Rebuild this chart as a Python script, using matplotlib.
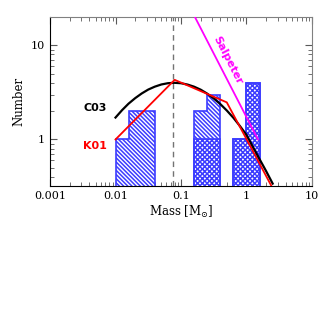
import matplotlib
matplotlib.use("Agg")
import matplotlib.pyplot as plt
from matplotlib.ticker import FuncFormatter, LogLocator

plt.rcParams["font.family"] = "DejaVu Serif"
plt.rcParams["mathtext.fontset"] = "dejavuserif"
plt.rcParams["hatch.linewidth"] = 1.1
plt.rcParams["hatch.color"] = "#1a1aff"

# histogram bins in log10(mass) and counts
bin_lo = [-2.0, -1.8, -0.8, -0.6, -0.2, 0.0]
bin_hi = [-1.8, -1.4, -0.6, -0.4, 0.0, 0.2]
n_all = [1, 2, 2, 3, 1, 4]
n_sub = [0, 0, 1, 1, 1, 4]

# Chabrier 2003 curve
c03_m = [0.01, 0.0126, 0.0158, 0.02, 0.0251, 0.0316, 0.0398, 0.0501, 0.0631,
         0.079, 0.1, 0.126, 0.158, 0.2, 0.251, 0.316, 0.398, 0.501, 0.631,
         0.794, 1.0, 1.26, 1.58, 2.0, 2.51]
c03_n = [1.71, 2.05, 2.40, 2.75, 3.08, 3.39, 3.64, 3.84, 3.96,
         4.00, 3.96, 3.83, 3.64, 3.38, 3.07, 2.73, 2.38, 2.03, 1.70,
         1.39, 1.12, 0.83, 0.62, 0.46, 0.34]

# Kroupa 2001 broken power law
k01_m = [0.01, 0.08, 0.5, 1.0, 3.0]
k01_n = [1.0, 4.3, 2.48, 1.01, 0.24]

# Salpeter slope
salp_m = [0.15, 1.5]
salp_n = [22.4, 1.0]

m_peak = 0.075

fig = plt.figure(figsize=(3.27, 3.27), dpi=100)
ax = fig.add_axes([0.153, 0.431, 0.801, 0.517])
ax.set_xscale("log")
ax.set_yscale("log")

base = 0.1
edge_col = "#3c3cff"


def groups(lo, hi, n):
    # split adjacent bins into contiguous runs
    runs = []
    for a, b, v in zip(lo, hi, n):
        if runs and abs(runs[-1][0][-1] - a) < 1e-9:
            runs[-1][0].append(b)
            runs[-1][1].append(v)
        else:
            runs.append(([a, b], [v]))
    return runs


for edges, vals in groups(bin_lo, bin_hi, n_all):
    ax.stairs(vals, [10 ** e for e in edges], baseline=base, fill=True,
              facecolor="white", edgecolor=edge_col, hatch="\\" * 8,
              linewidth=0, zorder=2)
    ax.stairs(vals, [10 ** e for e in edges], baseline=base, fill=False,
              edgecolor=edge_col, linewidth=1.2, zorder=4)

sub_lo = [a for a, v in zip(bin_lo, n_sub) if v > 0]
sub_hi = [b for b, v in zip(bin_hi, n_sub) if v > 0]
sub_n = [v for v in n_sub if v > 0]
for edges, vals in groups(sub_lo, sub_hi, sub_n):
    ax.stairs(vals, [10 ** e for e in edges], baseline=base, fill=True,
              facecolor="white", edgecolor=edge_col, hatch="x" * 7,
              linewidth=0, zorder=3)
    ax.stairs(vals, [10 ** e for e in edges], baseline=base, fill=False,
              edgecolor=edge_col, linewidth=1.2, zorder=4)

ax.axvline(m_peak, color="0.45", ls=(0, (4, 3)), lw=1.0, zorder=1)
ax.plot(c03_m, c03_n, color="black", lw=1.6, zorder=5)
ax.plot(k01_m, k01_n, color="red", lw=1.3, zorder=6)
ax.plot(salp_m, salp_n, color="magenta", lw=1.3, zorder=6)

ax.text(0.0032, 2.16, "C03", color="black", fontsize=8, fontweight="bold",
        family="DejaVu Sans", va="center", ha="left")
ax.text(0.0032, 0.85, "K01", color="red", fontsize=8, fontweight="bold",
        family="DejaVu Sans", va="center", ha="left")
ax.text(0.52, 6.9, "Salpeter", color="magenta", fontsize=8, fontweight="bold",
        family="DejaVu Sans", rotation=-63, va="center", ha="center")

ax.set_xlim(0.001, 10)
ax.set_ylim(0.32, 20)
fmt = FuncFormatter(lambda v, p: "%g" % v)
ax.xaxis.set_major_formatter(fmt)
ax.yaxis.set_major_formatter(fmt)
ax.xaxis.set_minor_locator(LogLocator(base=10, subs=range(2, 10), numticks=20))
ax.yaxis.set_minor_locator(LogLocator(base=10, subs=range(2, 10), numticks=20))
ax.yaxis.set_minor_formatter(FuncFormatter(lambda v, p: ""))
ax.tick_params(which="both", direction="in", top=True, right=True,
               color="0.35", labelsize=8)
ax.tick_params(which="major", length=5)
ax.tick_params(which="minor", length=3)
ax.spines["top"].set_color("0.5")
ax.spines["right"].set_color("0.5")

ax.set_xlabel(r"Mass [M$_{\odot}$]", fontsize=8.5, labelpad=2)
ax.set_ylabel("Number", fontsize=8.5, labelpad=4)

fig.savefig("out.png", dpi=100)
